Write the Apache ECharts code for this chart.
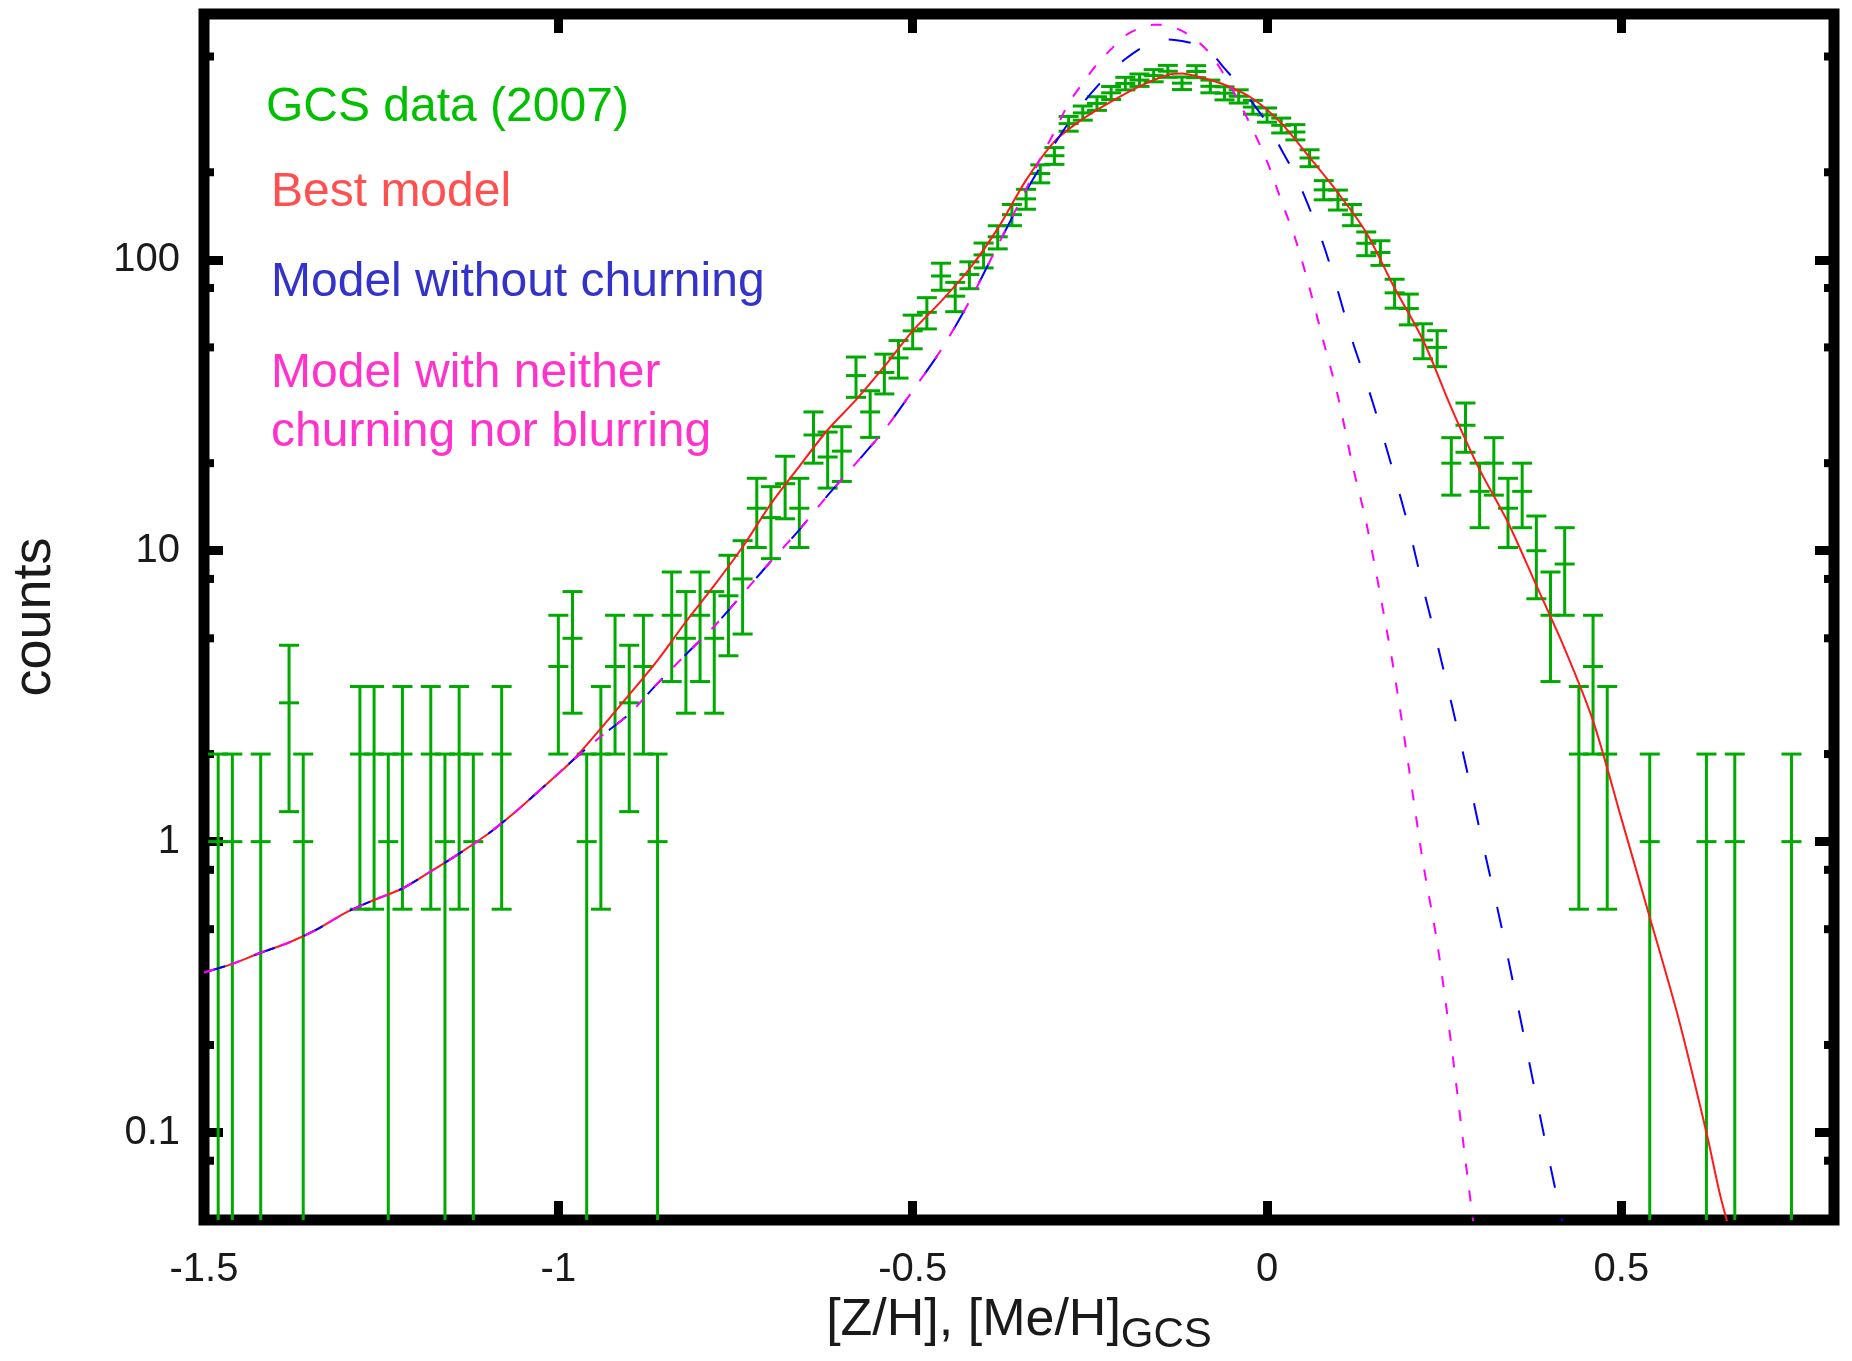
<!DOCTYPE html>
<html>
<head>
<meta charset="utf-8">
<script src="https://cdn.jsdelivr.net/npm/echarts@6/dist/echarts.min.js"></script>
<style>
html,body{margin:0;padding:0;background:#fff;}
#c{width:1852px;height:1361px;}
</style>
</head>
<body>
<div id="c"></div>
<script>
// ---- GCS data (2007): bin centres and counts (error bars are Poisson sqrt(N)) ----
const binX = [-1.48,-1.46,-1.42,-1.38,-1.36,-1.28,-1.26,-1.24,-1.22,-1.18,-1.16,-1.14,-1.12,-1.08,
  -1.00,-0.98,-0.96,-0.94,-0.92,-0.90,-0.88,-0.86,-0.84,-0.82,-0.80,-0.78,-0.76,-0.74,-0.72,-0.70,
  -0.68,-0.66,-0.64,-0.62,-0.60,-0.58,-0.56,-0.54,-0.52,-0.50,-0.48,-0.46,-0.44,-0.42,-0.40,-0.38,
  -0.36,-0.34,-0.32,-0.30,-0.28,-0.26,-0.24,-0.22,-0.20,-0.18,-0.16,-0.14,-0.12,-0.10,-0.08,-0.06,
  -0.04,-0.02,0.00,0.02,0.04,0.06,0.08,0.10,0.12,0.14,0.16,0.18,0.20,0.22,0.24,0.26,0.28,0.30,
  0.32,0.34,0.36,0.38,0.40,0.42,0.44,0.46,0.48,0.54,0.62,0.66,0.74];
const binCounts = [1,1,1,3,1,2,2,1,2,2,1,2,1,2,
  4,5,1,2,4,3,4,1,6,5,6,5,7,8,14,13,
  17,14,25,21,22,40,30,41,46,57,66,88,75,89,104,120,
  143,162,198,228,294,320,345,375,404,415,430,445,405,444,395,374,
  365,335,315,290,275,224,174,161,143,114,106,77,68,53,50,20,27,16,
  20,14,16,10,6,9,2,4,2,1,1,1,1];

// ---- Best model (red, solid) ----
const bestX = [-1.50,-1.46,-1.42,-1.38,-1.34,-1.30,-1.26,-1.22,-1.18,-1.14,-1.10,-1.06,-1.02,-0.98,
  -0.94,-0.90,-0.86,-0.82,-0.78,-0.74,-0.70,-0.66,-0.62,-0.58,-0.54,-0.50,-0.46,-0.42,-0.38,-0.34,
  -0.30,-0.26,-0.22,-0.18,-0.14,-0.12,-0.10,-0.06,-0.02,0.02,0.06,0.10,0.14,0.18,0.22,0.26,0.30,
  0.34,0.38,0.42,0.46,0.50,0.54,0.58,0.62,0.64,0.66];
const bestY = [0.355,0.38,0.415,0.45,0.50,0.57,0.63,0.69,0.79,0.91,1.06,1.27,1.55,1.9,
  2.45,3.2,4.2,5.7,7.6,10.3,14.5,19.5,26,33,43,57,72,93,128,188,
  255,305,350,395,432,437,428,400,358,295,225,170,124,80,53,31,19,
  12.5,7.6,4.6,2.6,1.2,0.55,0.25,0.1,0.06,0.04];

// ---- Model without churning (blue, dashed) ----
const noChurnX = [-1.50,-1.46,-1.42,-1.38,-1.34,-1.30,-1.26,-1.22,-1.18,-1.14,-1.10,-1.06,-1.02,-0.98,
  -0.94,-0.90,-0.86,-0.82,-0.78,-0.74,-0.70,-0.66,-0.62,-0.58,-0.54,-0.50,-0.46,-0.42,-0.38,-0.34,
  -0.30,-0.26,-0.22,-0.20,-0.18,-0.16,-0.14,-0.12,-0.10,-0.08,-0.06,-0.04,-0.02,0.00,0.02,0.04,
  0.06,0.08,0.10,0.12,0.14,0.16,0.18,0.20,0.22,0.24,0.26,0.28,0.30,0.33,0.36,0.39,0.42,0.43];
const noChurnY = [0.355,0.38,0.415,0.45,0.50,0.57,0.63,0.69,0.79,0.91,1.06,1.27,1.55,1.9,
  2.3,2.75,3.5,4.4,5.5,7.1,9.2,11.8,15.5,20,26,35.5,49,72,112,172,
  250,345,445,490,530,562,572,565,550,518,455,400,345,295,240,195,
  150,112,78,53,38,26.5,18,12,7.5,4.8,3.0,1.85,1.1,0.52,0.23,0.10,0.045,0.035];

// ---- Model with neither churning nor blurring (magenta, dotted) ----
const neitherX = [-1.50,-1.46,-1.42,-1.38,-1.34,-1.30,-1.26,-1.22,-1.18,-1.14,-1.10,-1.06,-1.02,-0.98,
  -0.94,-0.90,-0.86,-0.82,-0.78,-0.74,-0.70,-0.66,-0.62,-0.58,-0.54,-0.50,-0.46,-0.42,-0.38,-0.36,
  -0.34,-0.32,-0.30,-0.28,-0.26,-0.24,-0.22,-0.20,-0.18,-0.16,-0.14,-0.12,-0.10,-0.08,-0.06,-0.04,
  -0.02,0.00,0.02,0.04,0.06,0.08,0.10,0.12,0.14,0.16,0.18,0.20,0.22,0.24,0.26,0.28,0.30];
const neitherY = [0.355,0.38,0.415,0.45,0.50,0.57,0.63,0.69,0.79,0.91,1.06,1.27,1.55,1.9,
  2.3,2.75,3.5,4.4,5.5,7.1,9.2,11.8,15.5,20,26,35.5,49,72,112,140,
  175,223,275,345,405,470,530,590,625,643,640,612,570,510,430,350,
  280,218,160,118,80,52,34,20,12.5,7,3.74,1.8,0.85,0.45,0.2,0.08,0.033];

// ---- axes ----
const xMin = -1.5, xMax = 0.8, xStep = 0.5;
const yMin = 0.05, yMax = 700;
const yMinorTicks = [500,200,80,50,20,8,5,2,0.8,0.5,0.2,0.08];

const legendTexts = [
  {text:'GCS data (2007)', color:'#00c000'},
  {text:'Best model', color:'#ff5050'},
  {text:'Model without churning', color:'#3333cc'},
  {text:'Model with neither', color:'#ff33cc'},
  {text:'churning nor blurring', color:'#ff33cc'}
];

const FONT = '"Liberation Sans", Arial, Helvetica, sans-serif';
const chart = echarts.init(document.getElementById('c'));

function zip(xs, ys){ return xs.map((x,i)=>[x, ys[i]]); }

function renderErr(params, api){
  const x = api.value(0), n = api.value(1);
  const e = Math.sqrt(n);
  const cs = params.coordSys;
  const bottom = cs.y + cs.height;
  const pTop = api.coord([x, n + e]);
  const pMid = api.coord([x, n]);
  const lowV = n - e;
  const yLow = lowV > 0 ? api.coord([x, lowV])[1] : bottom + 30;
  const hw = 10;
  const style = {stroke:'#00aa00', lineWidth:3};
  const ch = [
    {type:'line', shape:{x1:pTop[0], y1:pTop[1], x2:pTop[0], y2:Math.min(yLow, bottom)}, style},
    {type:'line', shape:{x1:pTop[0]-hw, y1:pTop[1], x2:pTop[0]+hw, y2:pTop[1]}, style},
    {type:'line', shape:{x1:pMid[0]-hw, y1:pMid[1], x2:pMid[0]+hw, y2:pMid[1]}, style}
  ];
  if (lowV > 0 && yLow < bottom) {
    ch.push({type:'line', shape:{x1:pTop[0]-hw, y1:yLow, x2:pTop[0]+hw, y2:yLow}, style});
  }
  return {type:'group', children:ch};
}

function renderMinor(params, api){
  const cs = params.coordSys;
  const y = api.coord([api.value(0), api.value(1)])[1];
  const style = {stroke:'#000', lineWidth:8};
  return {type:'group', children:[
    {type:'line', shape:{x1:cs.x, y1:y, x2:cs.x+10, y2:y}, style},
    {type:'line', shape:{x1:cs.x+cs.width-10, y1:y, x2:cs.x+cs.width, y2:y}, style}
  ]};
}

const tick = {show:true, inside:true, length:19, lineStyle:{color:'#000', width:9}};
const noLine = {show:false, onZero:false};

const legendGraphics = legendTexts.map((t,i)=>({
  type:'text',
  x: i === 0 ? 266 : 271,
  y: [107.5, 193, 283, 374, 432.5][i],
  style:{text:t.text, fill:t.color, font:'48px ' + FONT, verticalAlign:'middle', align:'left'},
  z: 100
}));

chart.setOption({
  animation:false,
  backgroundColor:'#fff',
  grid:{left:204, top:14, width:1630, height:1215, show:true, borderColor:'#000', borderWidth:11, backgroundColor:'transparent'},
  xAxis:[{
    type:'value', position:'bottom', min:xMin, max:xMax, interval:xStep,
    axisLine:noLine, splitLine:{show:false},
    axisTick:tick,
    axisLabel:{show:true, margin:30, fontSize:40, fontFamily:FONT, color:'#1a1a1a', showMaxLabel:false,
      formatter:(v)=>String(v)},
    name:'{m|[Z/H], [Me/H]}{s|GCS}', nameLocation:'middle', nameGap:72,
    nameTextStyle:{rich:{
      m:{fontSize:52, fontFamily:FONT, color:'#1a1a1a', lineHeight:52, verticalAlign:'top'},
      s:{fontSize:42, fontFamily:FONT, color:'#1a1a1a', lineHeight:42, padding:[19,0,0,0], verticalAlign:'top'}
    }}
  },{
    type:'value', position:'top', min:xMin, max:xMax, interval:xStep,
    axisLine:noLine, splitLine:{show:false}, axisTick:tick, axisLabel:{show:false}
  }],
  yAxis:[{
    type:'log', logBase:10, position:'left', min:yMin, max:yMax,
    axisLine:noLine, splitLine:{show:false},
    axisTick:tick,
    axisLabel:{margin:24, fontSize:40, fontFamily:FONT, color:'#1a1a1a', padding:[9,0,0,0],
      formatter:(v)=>{ const l = Math.log10(v); return Math.abs(l - Math.round(l)) < 1e-6 ? String(+v.toPrecision(6)) : ''; }},
    name:'counts', nameLocation:'middle', nameGap:142, nameRotate:90,
    nameTextStyle:{fontSize:54, fontFamily:FONT, color:'#1a1a1a'}
  },{
    type:'log', logBase:10, min:yMin, max:yMax, position:'right',
    axisLine:noLine, splitLine:{show:false}, axisTick:tick, axisLabel:{show:false}
  }],
  graphic:legendGraphics,
  series:[
    {type:'custom', name:'minor ticks', renderItem:renderMinor, silent:true, clip:false, z:1,
      data:yMinorTicks.map(v=>[xMin, v]), encode:{x:0, y:1}},
    {type:'custom', name:'GCS data (2007)', renderItem:renderErr, clip:true, z:2,
      data:zip(binX, binCounts), encode:{x:0, y:1}},
    {type:'line', name:'Best model', data:zip(bestX, bestY), showSymbol:false, symbol:'none', smooth:0.3,
      clip:true, z:3, lineStyle:{color:'#ff1a1a', width:2}},
    {type:'line', name:'Model without churning', data:zip(noChurnX, noChurnY), showSymbol:false, symbol:'none', smooth:0.3,
      clip:true, z:4, lineStyle:{color:'#0000ff', width:2, type:[22,31]}},
    {type:'line', name:'Model with neither churning nor blurring', data:zip(neitherX, neitherY), showSymbol:false, symbol:'none', smooth:0.3,
      clip:true, z:5, lineStyle:{color:'#ff00ff', width:2, type:[11,16]}}
  ]
});
</script>
</body>
</html>
